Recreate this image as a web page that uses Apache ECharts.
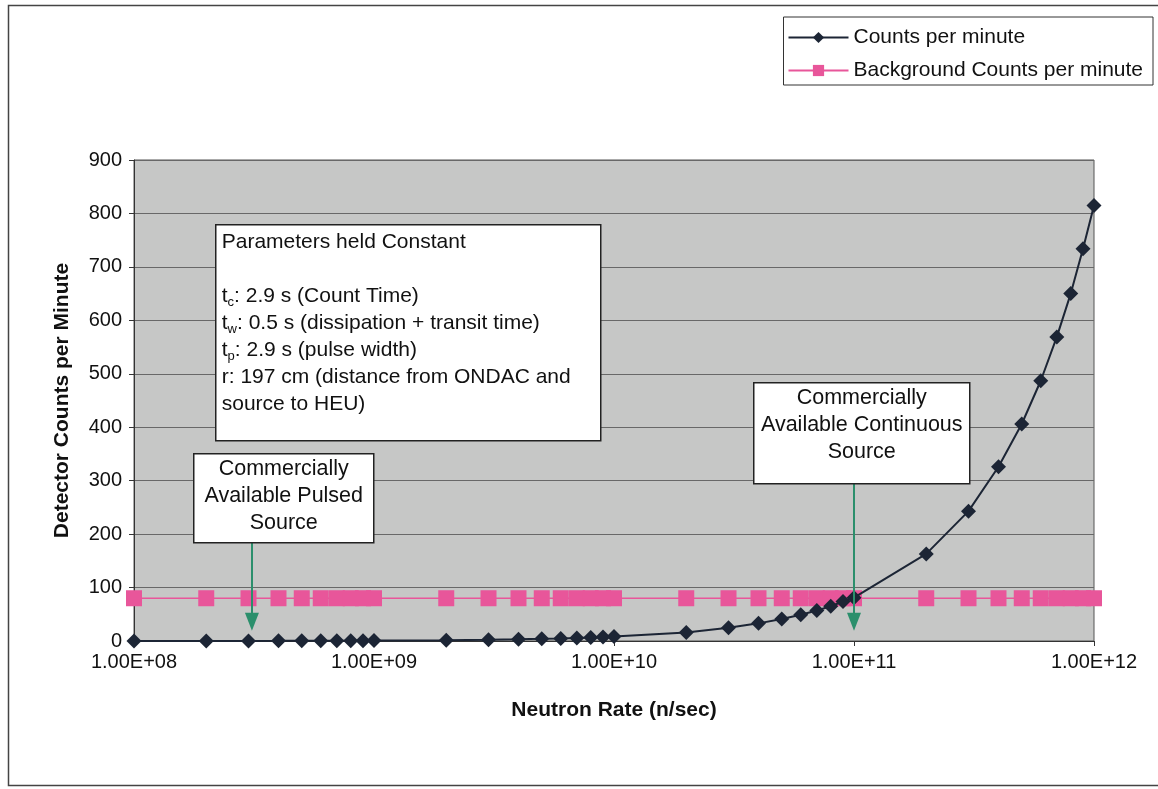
<!DOCTYPE html>
<html>
<head>
<meta charset="utf-8">
<script src="https://cdn.jsdelivr.net/npm/echarts@6/dist/echarts.min.js"></script>
<style>
  html, body { margin: 0; padding: 0; background: #fff; }
  #chart { width: 1158px; height: 789px; }
</style>
</head>
<body>
<div id="chart"></div>
<script>
// neutron rates (n/sec) at each sampled point
const rates = [
  1e8, 2e8, 3e8, 4e8, 5e8, 6e8, 7e8, 8e8, 9e8,
  1e9, 2e9, 3e9, 4e9, 5e9, 6e9, 7e9, 8e9, 9e9,
  1e10, 2e10, 3e10, 4e10, 5e10, 6e10, 7e10, 8e10, 9e10,
  1e11, 2e11, 3e11, 4e11, 5e11, 6e11, 7e11, 8e11, 9e11,
  1e12
];
// detector counts per minute
const counts = [
  0.1, 0.2, 0.2, 0.3, 0.4, 0.5, 0.6, 0.7, 0.7,
  0.8, 1.6, 2.5, 3.3, 4.1, 4.9, 5.7, 6.5, 7.4,
  8.2, 16, 25, 33, 41, 49, 57, 65, 74,
  81, 163, 243, 326, 406, 487, 569, 650, 734,
  815
];
// background counts per minute (flat)
const background = [
  80, 80, 80, 80, 80, 80, 80, 80, 80,
  80, 80, 80, 80, 80, 80, 80, 80, 80,
  80, 80, 80, 80, 80, 80, 80, 80, 80,
  80, 80, 80, 80, 80, 80, 80, 80, 80,
  80
];
// arrows marking the commercial sources: [rate, from, to]
const pulsedArrow = [3.1e8, 184, 36];
const continuousArrow = [1e11, 296, 36];

const FONT = '"Liberation Sans", Arial, sans-serif';
const chart = echarts.init(document.getElementById('chart'));

function sciLabel(v) {
  const exp = Math.round(Math.log10(v));
  const mant = v / Math.pow(10, exp);
  return mant.toFixed(2) + 'E+' + (exp < 10 ? '0' + exp : exp);
}

const arrowStyle = { color: '#2b8f6c', width: 2, type: 'solid' };
const boxStyle = { fill: '#fff', stroke: '#222', lineWidth: 1.5 };

const option = {
  animation: false,
  backgroundColor: '#fff',
  textStyle: { fontFamily: FONT },
  grid: {
    left: 134, right: 64, top: 160, bottom: 148,
    show: true,
    backgroundColor: '#c6c7c6',
    borderColor: '#555',
    borderWidth: 1
  },
  legend: {
    orient: 'vertical',
    right: 5, top: 17,
    padding: [10, 10, 4, 4],
    itemGap: 12,
    itemWidth: 60, itemHeight: 14,
    backgroundColor: '#fff',
    borderColor: '#333', borderWidth: 1,
    textStyle: { fontSize: 21, color: '#111', fontFamily: FONT },
    data: ['Counts per minute', 'Background Counts per minute']
  },
  xAxis: {
    type: 'log',
    logBase: 10,
    min: 1e8, max: 1e12,
    name: 'Neutron Rate (n/sec)',
    nameLocation: 'middle',
    nameGap: 59,
    nameTextStyle: { fontSize: 21, fontWeight: 'bold', color: '#111', fontFamily: FONT },
    axisLine: { onZero: false, lineStyle: { color: '#333' } },
    axisTick: { show: true, length: 5, lineStyle: { color: '#333' } },
    minorTick: { show: false },
    splitLine: { show: false },
    axisLabel: { fontSize: 20, color: '#111', margin: 11, formatter: sciLabel, fontFamily: FONT }
  },
  yAxis: {
    type: 'value',
    min: 0, max: 900, interval: 100,
    name: 'Detector Counts per Minute',
    nameLocation: 'middle',
    nameGap: 61,
    nameTextStyle: { fontSize: 21, fontWeight: 'bold', color: '#111', fontFamily: FONT },
    axisLine: { show: true, lineStyle: { color: '#333' } },
    axisTick: { show: true, length: 5, lineStyle: { color: '#333' } },
    splitLine: { lineStyle: { color: '#686868', width: 1 } },
    axisLabel: { fontSize: 20, color: '#111', margin: 12, fontFamily: FONT }
  },
  series: [
    {
      name: 'Background Counts per minute',
      type: 'line',
      data: rates.map((r, i) => [r, background[i]]),
      symbol: 'rect',
      symbolSize: 16,
      lineStyle: { color: '#e8569a', width: 1.5 },
      itemStyle: { color: '#e8569a' },
      z: 2
    },
    {
      name: 'Counts per minute',
      type: 'line',
      data: rates.map((r, i) => [r, counts[i]]),
      symbol: 'diamond',
      symbolSize: 15,
      lineStyle: { color: '#1c2535', width: 2 },
      itemStyle: { color: '#1c2535' },
      z: 3,
      markLine: {
        silent: true,
        symbol: ['none', 'triangle'],
        symbolSize: [14, 18],
        label: { show: false },
        lineStyle: arrowStyle,
        data: [
          [{ coord: [pulsedArrow[0], pulsedArrow[1]] }, { coord: [pulsedArrow[0], pulsedArrow[2]] }],
          [{ coord: [continuousArrow[0], continuousArrow[1]] }, { coord: [continuousArrow[0], continuousArrow[2]] }]
        ]
      }
    }
  ],
  graphic: [
    {
      type: 'rect', left: 6, top: 3, z: 0,
      shape: { width: 1160, height: 780 },
      style: { fill: 'none', stroke: '#444', lineWidth: 1.5 }
    },
    {
      type: 'group', left: 215, top: 224,
      children: [
        { type: 'rect', z: 100, shape: { width: 385, height: 216 }, style: boxStyle },
        { type: 'text', z: 101, left: 6, top: 4,
          style: {
            text: 'Parameters held Constant\n\n{b|t}{s|c}: 2.9 s (Count Time)\n{b|t}{s|w}: 0.5 s (dissipation + transit time)\n{b|t}{s|p}: 2.9 s (pulse width)\nr: 197 cm (distance from ONDAC and\nsource to HEU)',
            font: '21px ' + FONT,
            fill: '#111',
            lineHeight: 27,
            rich: {
              b: { fontSize: 21, fontFamily: FONT, fill: '#111', lineHeight: 27 },
              s: { fontSize: 13, fontFamily: FONT, fill: '#111', padding: [12, 0, 0, 0], lineHeight: 27 }
            }
          } }
      ]
    },
    {
      type: 'group', left: 193, top: 453,
      children: [
        { type: 'rect', z: 100, shape: { width: 180, height: 89 }, style: boxStyle },
        { type: 'text', z: 101, x: 90, y: 2,
          style: {
            text: 'Commercially\nAvailable Pulsed\nSource',
            font: '21.5px ' + FONT, fill: '#111', align: 'center', lineHeight: 27
          } }
      ]
    },
    {
      type: 'group', left: 753, top: 382,
      children: [
        { type: 'rect', z: 100, shape: { width: 216, height: 101 }, style: boxStyle },
        { type: 'text', z: 101, x: 108, y: 2,
          style: {
            text: 'Commercially\nAvailable Continuous\nSource',
            font: '21.5px ' + FONT, fill: '#111', align: 'center', lineHeight: 27
          } }
      ]
    }
  ]
};

chart.setOption(option);
</script>
</body>
</html>
